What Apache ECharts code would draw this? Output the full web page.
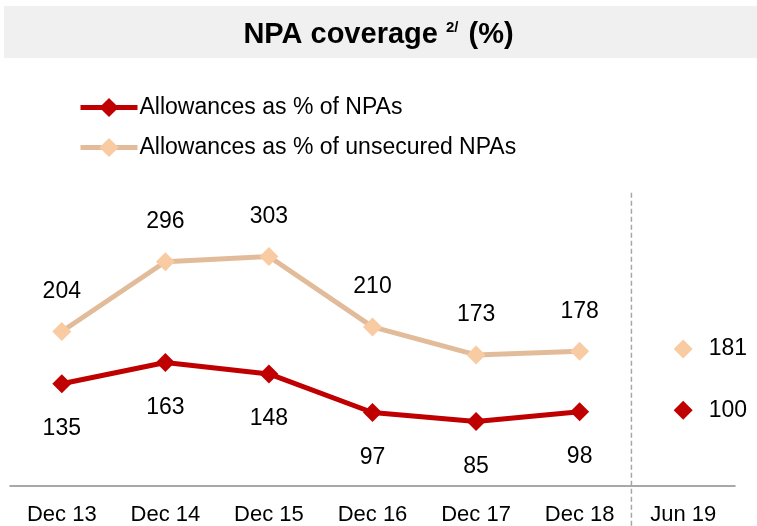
<!DOCTYPE html>
<html><head><meta charset="utf-8">
<script src="https://cdn.jsdelivr.net/npm/echarts@6/dist/echarts.min.js"></script>
<style>html,body{margin:0;padding:0;background:#fff}#c{width:757px;height:526px}</style>
</head><body><div id="c"></div>
<script>
var categories = ['Dec 13','Dec 14','Dec 15','Dec 16','Dec 17','Dec 18','Jun 19'];
var allowNpa = [135,163,148,97,85,98];
var allowUnsecured = [204,296,303,210,173,178];
var jun19Npa = [100];
var jun19Unsecured = [181];
var seriesNames = ['Allowances as % of NPAs','Allowances as % of unsecured NPAs'];

var FONT = '"Liberation Sans", Arial, sans-serif';
var RED = '#c00000', TAN = '#e2bc9a', PEACH = '#f9cba2';

function pad(arr, before, total){
  var out = [];
  for (var i=0;i<before;i++) out.push(null);
  arr.forEach(function(v){out.push(v);});
  while (out.length<total) out.push(null);
  return out;
}
var n = categories.length;

var chart = echarts.init(document.getElementById('c'), null, {renderer:'canvas'});
var option = {
  animation:false,
  textStyle:{fontFamily:FONT},
  title:{
    left:'center', top:15,
    text:'{a|NPA coverage }{s|2/}{a| (%)}',
    textStyle:{rich:{
      a:{fontSize:29,fontWeight:'bold',color:'#000',fontFamily:FONT},
      s:{fontSize:15,color:'#000',fontFamily:FONT,verticalAlign:'top',padding:[0,2,12,0]}
    }}
  },
  legend:{
    orient:'vertical', left:78, top:96, itemGap:17, padding:0,
    itemWidth:57, itemHeight:24,
    lineStyle:{width:5},
    data:seriesNames,
    textStyle:{fontSize:23,color:'#000',fontFamily:FONT,padding:[0,0,0,-3]}
  },
  grid:{left:10,right:22,top:183,bottom:40,containLabel:false},
  xAxis:{
    type:'category', data:categories, boundaryGap:true,
    axisLine:{lineStyle:{color:'#8c8c8c',width:1.5}},
    axisTick:{show:false},
    axisLabel:{fontSize:22,color:'#000',margin:18,fontFamily:FONT}
  },
  yAxis:{type:'value',min:0,max:400,show:false,splitLine:{show:false}},
  series:[
    {
      name:seriesNames[0], type:'line', data:pad(allowNpa,0,n),
      symbol:'diamond', symbolSize:19,
      lineStyle:{color:RED,width:5}, itemStyle:{color:RED},
      label:{show:true,position:'bottom',distance:24,fontSize:23,color:'#000',fontFamily:FONT},
      z:3
    },
    {
      name:seriesNames[1], type:'line', data:pad(allowUnsecured,0,n),
      symbol:'diamond', symbolSize:19,
      lineStyle:{color:TAN,width:5}, itemStyle:{color:PEACH},
      label:{show:true,position:'top',distance:19,fontSize:23,color:'#000',fontFamily:FONT},
      z:2
    },
    {
      name:'jun19npa', type:'line', data:pad(jun19Npa,n-1,n),
      symbol:'diamond', symbolSize:19, showSymbol:true,
      lineStyle:{width:0}, itemStyle:{color:RED},
      label:{show:true,position:'right',distance:16,fontSize:23,color:'#000',fontFamily:FONT}
    },
    {
      name:'jun19uns', type:'line', data:pad(jun19Unsecured,n-1,n),
      symbol:'diamond', symbolSize:19, showSymbol:true,
      lineStyle:{width:0}, itemStyle:{color:PEACH},
      label:{show:true,position:'right',distance:16,fontSize:23,color:'#000',fontFamily:FONT}
    }
  ]
};
chart.setOption(option);

// title band and dashed divider, positioned via the chart's own scales
var p5 = chart.convertToPixel({xAxisIndex:0}, categories[n-2]);
var p6 = chart.convertToPixel({xAxisIndex:0}, categories[n-1]);
var xDiv = (p5+p6)/2;
var yTop = chart.convertToPixel({yAxisIndex:0}, 387);
chart.setOption({
  graphic:[
    {type:'rect', z:-10, silent:true, shape:{x:4,y:6,width:760,height:52}, style:{fill:'#f0f0f0'}},
    {type:'line', z:1, silent:true, shape:{x1:xDiv,y1:yTop,x2:xDiv,y2:526},
     style:{stroke:'#a6a6a6',lineWidth:1.5,lineDash:[5,3]}}
  ]
});
</script></body></html>
